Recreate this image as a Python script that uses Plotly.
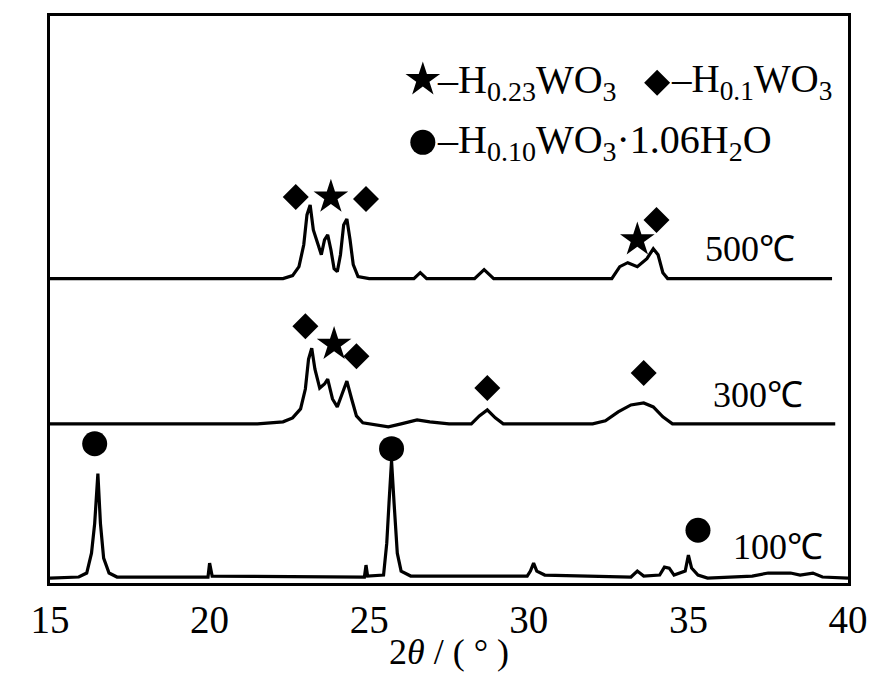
import plotly.graph_objects as go

# ---- data (2theta in degrees, intensity in arbitrary offset units) ----
x_100 = [15, 15.9, 16.15, 16.3, 16.4, 16.5, 16.58, 16.68, 16.85, 17.1, 19.95, 20.0, 20.08,
         24.85, 24.9, 24.95, 25.45, 25.55, 25.62, 25.7, 25.78, 25.88, 26.0, 26.3,
         29.95, 30.05, 30.15, 30.25, 30.5, 33.2, 33.4, 33.6, 34.1, 34.25, 34.4, 34.55,
         34.9, 35.0, 35.1, 35.3, 35.6, 37.0, 37.5, 38.2, 38.5, 38.9, 39.2, 40]
y_100 = [5, 6, 10, 30, 60, 110, 60, 25, 10, 6, 6, 20, 7,
         6, 18, 7, 8, 40, 80, 123, 80, 30, 12, 7,
         7, 12, 20, 12, 8, 6, 12, 7, 8, 16, 15, 8,
         12, 28, 15, 8, 5, 7, 10, 10, 8, 10, 6, 5]

x_300 = [15, 21.5, 22.3, 22.6, 22.85, 23.0, 23.1, 23.2, 23.3, 23.45, 23.6, 23.7, 23.85,
         24.0, 24.15, 24.3, 24.45, 24.6, 24.8, 25.2, 25.6, 26.0, 26.5, 26.9, 27.5,
         28.2, 28.45, 28.7, 28.95, 29.2, 32.0, 32.4, 32.8, 33.2, 33.6, 33.9, 34.2, 34.5, 39.6]
y_300 = [160, 160, 162, 166, 175, 195, 225, 236, 215, 196, 200, 205, 185,
         177, 190, 203, 185, 168, 161, 159, 157, 160, 164, 162, 160,
         160, 168, 174, 166, 160, 160, 163, 172, 179, 181, 177, 167, 160, 160]

x_500 = [15, 22.3, 22.6, 22.8, 22.95, 23.05, 23.15, 23.25, 23.4, 23.5, 23.6, 23.7, 23.8,
         23.9, 24.0, 24.1, 24.2, 24.3, 24.4, 24.5, 24.65, 25.0, 26.4, 26.6, 26.8,
         28.3, 28.6, 28.9, 32.6, 32.85, 33.1, 33.4, 33.7, 33.9, 34.05, 34.2, 34.35, 39.5]
y_500 = [306, 306, 309, 318, 340, 370, 380, 355, 340, 330, 345, 350, 335,
         316, 313, 330, 360, 366, 345, 320, 308, 306, 306, 312, 306,
         306, 315, 306, 306, 318, 322, 318, 326, 336, 330, 312, 306, 306]

# phase markers
star_x = [23.8, 33.4, 23.9]
star_y = [388, 345, 240]
diamond_x = [22.7, 24.9, 34.0, 23.0, 24.6, 28.7, 33.6]
diamond_y = [388, 386, 365, 258, 228, 196, 211]
circle_x = [16.4, 25.7, 35.3]
circle_y = [140, 135, 53]

temp_labels = ["500℃", "300℃", "100℃"]
tick_vals = [15, 20, 25, 30, 35, 40]

FONT = "Liberation Serif"
line = dict(color="black", width=3.2)

fig = go.Figure()
for xs, ys in [(x_100, y_100), (x_300, y_300), (x_500, y_500)]:
    fig.add_trace(go.Scatter(x=xs, y=ys, mode="lines", line=line, hoverinfo="skip"))

fig.add_trace(go.Scatter(x=star_x, y=star_y, mode="markers",
                         marker=dict(symbol="star", size=26, color="black")))
fig.add_trace(go.Scatter(x=diamond_x, y=diamond_y, mode="markers",
                         marker=dict(symbol="diamond", size=20, color="black")))
fig.add_trace(go.Scatter(x=circle_x, y=circle_y, mode="markers",
                         marker=dict(symbol="circle", size=25, color="black")))

# legend symbols
fig.add_trace(go.Scatter(x=[26.68], y=[506], mode="markers",
                         marker=dict(symbol="star", size=26, color="black")))
fig.add_trace(go.Scatter(x=[34.02], y=[503], mode="markers",
                         marker=dict(symbol="diamond", size=20, color="black")))
fig.add_trace(go.Scatter(x=[26.68], y=[443], mode="markers",
                         marker=dict(symbol="circle", size=25, color="black")))

annots = [
    dict(x=27.05, y=504, text="–H<sub>0.23</sub>WO<sub>3</sub>", size=40),
    dict(x=34.4, y=504, text="–H<sub>0.1</sub>WO<sub>3</sub>", size=39),
    dict(x=27.05, y=443, text="–H<sub>0.10</sub>WO<sub>3</sub>·1.06H<sub>2</sub>O", size=40),
    dict(x=35.45, y=336, text=temp_labels[0], size=36),
    dict(x=35.7, y=189, text=temp_labels[1], size=36),
    dict(x=36.35, y=36, text=temp_labels[2], size=36),
]
for a in annots:
    fig.add_annotation(x=a["x"], y=a["y"], text=a["text"], showarrow=False,
                       xanchor="left", yanchor="middle",
                       font=dict(family=FONT, size=a["size"], color="black"))

fig.update_layout(
    width=880, height=684,
    margin=dict(l=42, r=40, t=5, b=109),
    paper_bgcolor="white", plot_bgcolor="white",
    showlegend=False,
    font=dict(family=FONT, color="black"),
)
fig.update_xaxes(range=[15, 40], tickvals=tick_vals, ticks="",
                 tickfont=dict(family=FONT, size=39, color="black"),
                 showline=True, mirror=True, linecolor="black", linewidth=3,
                 showgrid=False, zeroline=False,
                 title=dict(text="2<i>θ</i> / ( ° )", font=dict(family=FONT, size=36, color="black"),
                            standoff=0))
fig.update_yaxes(range=[0, 570], showticklabels=False, ticks="",
                 showline=True, mirror=True, linecolor="black", linewidth=3,
                 showgrid=False, zeroline=False)

fig.write_html("out.html")
